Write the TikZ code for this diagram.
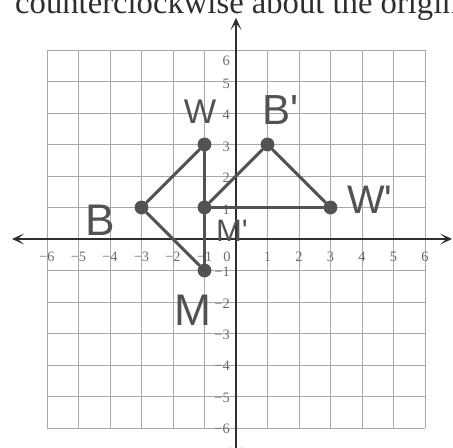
\documentclass[tikz,border=0pt]{standalone}
\usepackage{fontspec}
\setmainfont{Liberation Serif}
\newfontfamily\handfont{Liberation Sans}
\usetikzlibrary{arrows.meta}
\definecolor{pencil}{HTML}{525252}
\definecolor{gridgray}{HTML}{A8A8A8}
\definecolor{tickgray}{HTML}{6A6A6A}
\definecolor{inkgray}{HTML}{2E2E2E}

\begin{document}
\begin{tikzpicture}[>={Stealth[length=11pt,width=10pt,inset=6pt]},
  dot/.style={circle, fill=pencil, inner sep=0pt, minimum size=12.5pt},
  seg/.style={pencil, line width=2.6pt, line cap=round},
  hand/.style={text=pencil, font=\handfont\fontsize{#1}{#1}\selectfont},
  tick/.style={text=tickgray, inner sep=0pt, font=\fontsize{13}{13}\selectfont}]
  \useasboundingbox (-7.492,-6.635) rectangle (6.889,7.587);
  \node[anchor=base west, inner sep=0pt, text=inkgray, font=\fontsize{29.5}{30}\selectfont]
    (title) at (-7.016,7.143) {counterclockwise about the origin};
  \draw[gridgray, line width=0.7pt] (-6,-6) grid (6,6);
  \coordinate (xl) at (-7.11,0); \coordinate (xr) at (6.86,0);
  \coordinate (yt) at (0,7.02); \coordinate (yb) at (0,-7.0);
  \draw[inkgray, line width=1.4pt, <->] (xl) -- (xr);
  \draw[inkgray, line width=1.4pt, <->] (yt) -- (yb);
  \foreach \i in {1,...,6}{
    \node[tick] (xp\i) at (\i,-0.57) {\i};
    \node[tick] (xn\i) at (-\i,-0.57) {−\i};
    \node[tick, anchor=east] (yn\i) at (-0.19,-\i-0.04) {−\i};
  }
  \foreach \i in {1,...,5}{
    \node[tick, anchor=east] (yp\i) at (-0.19,\i-0.06) {\i};
  }
  \node[tick, anchor=east] (yp6) at (-0.19,5.65) {6};
  \node[tick] (zero) at (-0.29,-0.57) {0};
  % original triangle BWM and its image B'W'M'
  \node[dot] (B) at (-3,1) {};
  \node[dot] (W) at (-1,3) {};
  \node[dot] (M) at (-1,-1) {};
  \node[dot] (Bp) at (1,3) {};
  \node[dot] (Wp) at (3,1) {};
  \node[dot] (Mp) at (-1,1) {};
  \draw[seg] (B) -- (W) -- (M) -- (B);
  \draw[seg] (Bp) -- (Wp) -- (Mp) -- (Bp);
  \node[hand=40] (lB) at (-4.32,0.60) {B};
  \node[hand=31] (lW) at (-1.14,4.03) {W};
  \node[hand=40] (lM) at (-1.37,-2.25) {M};
  \node[hand=38] (lBp) at (1.40,4.10) {B\textquotesingle};
  \node[hand=36] (lWp) at (4.25,1.24) {W\textquotesingle};
  \node[hand=28] (lMp) at (-0.13,0.25) {M\textquotesingle};
\end{tikzpicture}
\end{document}
